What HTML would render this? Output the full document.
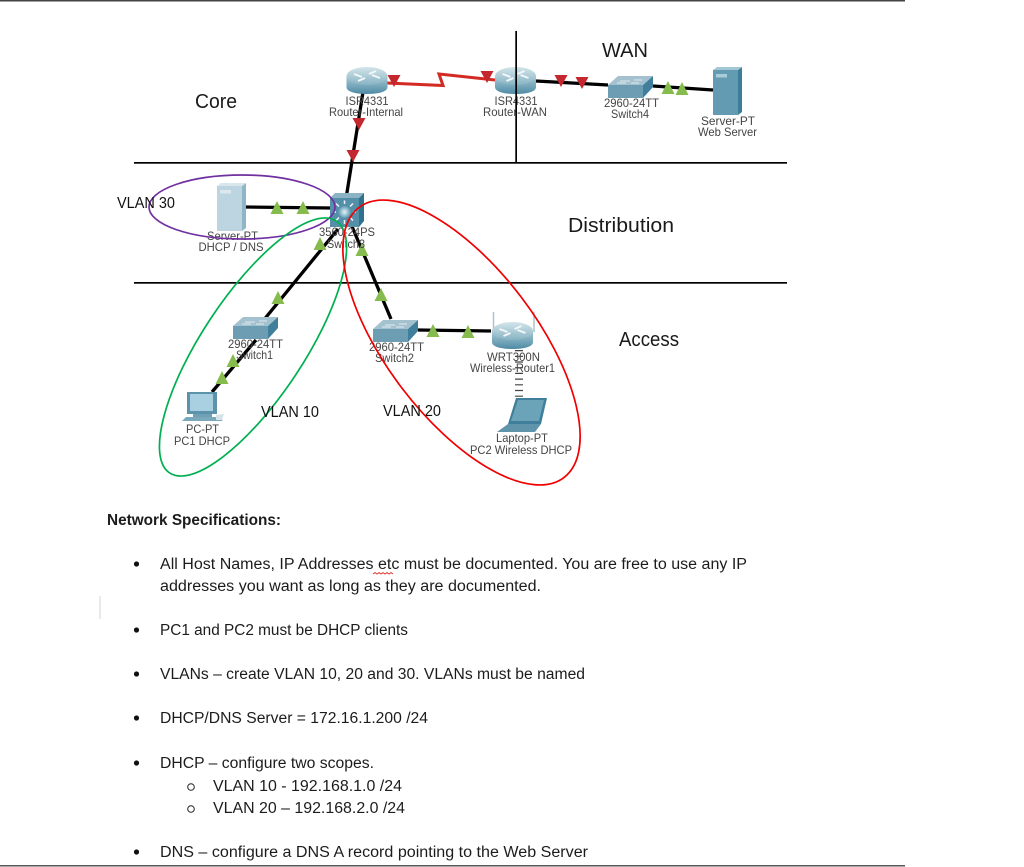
<!DOCTYPE html>
<html lang="en">
<head>
<meta charset="utf-8">
<title>Network diagram</title>
<style>
html,body{margin:0;padding:0;background:#fff;width:1024px;height:867px;overflow:hidden}
svg{display:block}
text{font-family:"Liberation Sans",sans-serif}
.d{font-size:12px;fill:#444;text-anchor:middle;filter:url(#soft)}
.h{font-size:20px;fill:#1a1a1a}
.v{font-size:15.5px;fill:#111}
.b{font-size:15.5px;fill:#1c1c1c}
</style>
</head>
<body>
<svg width="1024" height="867" viewBox="0 0 1024 867" xmlns="http://www.w3.org/2000/svg">
<defs>
<filter id="soft" x="-10%" y="-30%" width="120%" height="160%"><feGaussianBlur stdDeviation="0.3"/></filter>
<linearGradient id="rt" x1="0" y1="0" x2="0" y2="1"><stop offset="0" stop-color="#d3e5ea"/><stop offset="1" stop-color="#87b3c3"/></linearGradient>
<linearGradient id="sd" x1="0" y1="0" x2="0" y2="1"><stop offset="0" stop-color="#a9cad6"/><stop offset="1" stop-color="#4f8ba4"/></linearGradient>
<radialGradient id="ball"><stop offset="0" stop-color="#e6f3f7"/><stop offset="1" stop-color="#5f9db5"/></radialGradient>
<g id="router">
<path d="M-20.500,-7 V4 C-20.500,9 -11,11 0,11 C11,11 20.500,9 20.500,4 V-7 Z" fill="url(#sd)"/>
<ellipse cx="0" cy="-7" rx="20.500" ry="9" fill="url(#rt)"/>
<path d="M-13,-9 L-5,-6 M13,-5 L5,-8 M-9,-2 L-2,-5 M9,-12 L2,-9" stroke="#f2f7f9" stroke-width="2" fill="none"/>
</g>
<g id="switch">
<path d="M-22,-2 L-12,-11 H23 L13,-2 Z" fill="#a3c1cf"/>
<path d="M-22,-2 H13 V11 H-22 Z" fill="#6d9db3"/>
<path d="M13,-2 L23,-11 V0 L13,11 Z" fill="#3f7f9b"/>
<path d="M-10,-6 H0 M4,-7 H12 M-13,-4 H-4 M1,-4 H9" stroke="#e0ecf1" stroke-width="1"/>
</g>
<path id="rtri" d="M-6.500,-6 H6.500 L0,6 Z" fill="#c5272f"/>
<path id="gtri" d="M-6.500,6 H6.500 L0,-7 Z" fill="#86bb4d"/>
</defs>

<rect x="0" y="0" width="905" height="1.500" fill="#444"/>
<rect x="0" y="865" width="905" height="1.500" fill="#555"/>
<rect x="99.500" y="596" width="1" height="23" fill="#d4d4d4"/>

<!-- links -->
<g fill="none" stroke="#000" stroke-width="3.300">
<path d="M363,92 L345,205"/>
<path d="M536,81 L608,85"/>
<path d="M653,86 L713,90"/>
<path d="M246,207 L332,208"/>
<path d="M338,229 L254,332"/>
<path d="M256,340 L212,392"/>
<path d="M351,224 L391,319"/>
<path d="M418,330 L491,331"/>
</g>
<path d="M387,83 L443,85.500 L439,74 L495,80" fill="none" stroke="#d42a24" stroke-width="3"/>
<path d="M519,350 V398" fill="none" stroke="#444" stroke-width="8" stroke-dasharray="1.200 4.500"/>

<!-- routers -->
<use href="#router" x="367" y="83"/>
<use href="#router" x="515.500" y="83"/>
<!-- wireless router -->
<path d="M493.500,312 V332 M534,312 V332" stroke="#a9c3cf" stroke-width="1.500"/>
<use href="#router" x="512.500" y="338"/>
<!-- switches -->
<use href="#switch" x="630" y="87"/>
<use href="#switch" x="255" y="328"/>
<use href="#switch" x="395" y="331"/>
<!-- web server -->
<path d="M713,70 H738 V115 H713 Z" fill="#639cb2"/>
<path d="M738,70 L742,67 V112 L738,115 Z" fill="#3c7d99"/>
<path d="M713,70 L717,67 H742 L738,70 Z" fill="#a3c6d4"/>
<rect x="716" y="74" width="11" height="3.500" fill="#a9ccd9"/>
<!-- DHCP server -->
<path d="M217,186 H242 V231 H217 Z" fill="#bcd5e0"/>
<path d="M242,186 L246,183 V228 L242,231 Z" fill="#8fb6c7"/>
<path d="M217,186 L221,183 H246 L242,186 Z" fill="#d9e7ed"/>
<rect x="220" y="190" width="11" height="3.500" fill="#dbe8ee"/>
<!-- multilayer switch -->
<path d="M330,198 L335,193 H364 L359,198 Z" fill="#8db4c5"/>
<path d="M359,198 L364,193 V221 L359,227 Z" fill="#2f7290"/>
<rect x="330" y="198" width="29" height="29" fill="#548fa9"/>
<circle cx="344.500" cy="212" r="6" fill="url(#ball)"/>
<path d="M344.500,200.500 V204 M344.500,220 V224 M333,212 H336 M353,212 H356 M336,203.500 L339,206.500 M353,203.500 L350,206.500 M336,220.500 L339,217.500 M353,220.500 L350,217.500" stroke="#eef6f9" stroke-width="1.500"/>
<!-- PC -->
<path d="M187,392 H217 V414 H187 Z" fill="#5c93aa"/>
<rect x="190" y="394" width="23" height="17" fill="#a9d0e0"/>
<path d="M193,414 H212 V417 H193 Z" fill="#6fa0b5"/>
<path d="M186,417 H218 L223,421 H182 Z" fill="#7ba8bb"/>
<path d="M216,415 L224,414 L222,420 H216 Z" fill="#d5e3e9"/>
<!-- Laptop -->
<path d="M516,398 H547 L541,424 H508 Z" fill="#3f7f9b"/>
<path d="M518,400 H544 L539,421 H511 Z" fill="#6ba3b9"/>
<path d="M508,424 H541 L535,432 H497 Z" fill="#5f94aa"/>

<!-- link markers -->
<use href="#rtri" x="394" y="81"/>
<use href="#rtri" x="487" y="77"/>
<use href="#rtri" x="561" y="81"/>
<use href="#rtri" x="582" y="83"/>
<use href="#rtri" x="359" y="124"/>
<use href="#rtri" x="353" y="156"/>
<use href="#gtri" x="668" y="88"/>
<use href="#gtri" x="682" y="89"/>
<use href="#gtri" x="277" y="208"/>
<use href="#gtri" x="303" y="208"/>
<use href="#gtri" x="320" y="244"/>
<use href="#gtri" x="278" y="298"/>
<use href="#gtri" x="362" y="250"/>
<use href="#gtri" x="381" y="295"/>
<use href="#gtri" x="233" y="361"/>
<use href="#gtri" x="222" y="378"/>
<use href="#gtri" x="433" y="331"/>
<use href="#gtri" x="468" y="332"/>

<!-- device labels -->
<text class="d" x="367" y="105" textLength="43" lengthAdjust="spacingAndGlyphs">ISR4331</text>
<text class="d" x="366" y="116" textLength="74" lengthAdjust="spacingAndGlyphs">Router-Internal</text>
<text class="d" x="516" y="105" textLength="43" lengthAdjust="spacingAndGlyphs">ISR4331</text>
<text class="d" x="515" y="116" textLength="64" lengthAdjust="spacingAndGlyphs">Router-WAN</text>
<text class="d" x="631.500" y="107" textLength="55" lengthAdjust="spacingAndGlyphs">2960-24TT</text>
<text class="d" x="630" y="118" textLength="38" lengthAdjust="spacingAndGlyphs">Switch4</text>
<text class="d" x="728" y="125" textLength="54" lengthAdjust="spacingAndGlyphs">Server-PT</text>
<text class="d" x="727.500" y="136" textLength="59" lengthAdjust="spacingAndGlyphs">Web Server</text>
<text class="d" x="232.500" y="240" textLength="51" lengthAdjust="spacingAndGlyphs">Server-PT</text>
<text class="d" x="231" y="251" textLength="65" lengthAdjust="spacingAndGlyphs">DHCP / DNS</text>
<text class="d" x="347" y="236" textLength="56" lengthAdjust="spacingAndGlyphs">3560-24PS</text>
<text class="d" x="346" y="248" textLength="38" lengthAdjust="spacingAndGlyphs">Switch3</text>
<text class="d" x="255.500" y="348" textLength="55" lengthAdjust="spacingAndGlyphs">2960-24TT</text>
<text class="d" x="254.500" y="359" textLength="37" lengthAdjust="spacingAndGlyphs">Switch1</text>
<text class="d" x="396.500" y="351" textLength="55" lengthAdjust="spacingAndGlyphs">2960-24TT</text>
<text class="d" x="394.500" y="362" textLength="39" lengthAdjust="spacingAndGlyphs">Switch2</text>
<text class="d" x="513.500" y="361" textLength="53" lengthAdjust="spacingAndGlyphs">WRT300N</text>
<text class="d" x="512.500" y="372" textLength="85" lengthAdjust="spacingAndGlyphs">Wireless-Router1</text>
<text class="d" x="522" y="442" textLength="52" lengthAdjust="spacingAndGlyphs">Laptop-PT</text>
<text class="d" x="521" y="454" textLength="102" lengthAdjust="spacingAndGlyphs">PC2 Wireless DHCP</text>
<text class="d" x="202.500" y="433" textLength="33" lengthAdjust="spacingAndGlyphs">PC-PT</text>
<text class="d" x="202" y="445" textLength="56" lengthAdjust="spacingAndGlyphs">PC1 DHCP</text>

<!-- zone lines -->
<rect x="134" y="162" width="653" height="1.700" fill="#000"/>
<rect x="134" y="282" width="653" height="1.700" fill="#000"/>
<rect x="515.300" y="31" width="1.700" height="132" fill="#000"/>

<!-- VLAN ellipses -->
<ellipse cx="242" cy="207" rx="93" ry="32" fill="none" stroke="#7030a0" stroke-width="1.700"/>
<ellipse cx="253" cy="347" rx="151" ry="51" transform="rotate(-56.500 253 347)" fill="none" stroke="#00b050" stroke-width="1.700"/>
<ellipse cx="461.500" cy="342.500" rx="169.500" ry="75" transform="rotate(52.800 461.500 342.500)" fill="none" stroke="#f00000" stroke-width="1.700"/>

<!-- zone headings -->
<text class="h" x="195" y="108" textLength="42" lengthAdjust="spacingAndGlyphs">Core</text>
<text class="h" x="602" y="57" textLength="46" lengthAdjust="spacingAndGlyphs">WAN</text>
<text class="h" x="568" y="232" textLength="106" lengthAdjust="spacingAndGlyphs">Distribution</text>
<text class="h" x="619" y="346" textLength="60" lengthAdjust="spacingAndGlyphs">Access</text>
<text class="v" x="117" y="208" textLength="58" lengthAdjust="spacingAndGlyphs">VLAN 30</text>
<text class="v" x="261" y="417" textLength="58" lengthAdjust="spacingAndGlyphs">VLAN 10</text>
<text class="v" x="383" y="416" textLength="58" lengthAdjust="spacingAndGlyphs">VLAN 20</text>

<!-- document text -->
<text class="b" x="107" y="525" font-weight="700" textLength="174" lengthAdjust="spacingAndGlyphs">Network Specifications:</text>

<g fill="#111">
<circle cx="136.500" cy="564" r="2.600"/>
<circle cx="136.500" cy="630" r="2.600"/>
<circle cx="136.500" cy="674" r="2.600"/>
<circle cx="136.500" cy="718" r="2.600"/>
<circle cx="136.500" cy="763" r="2.600"/>
<circle cx="136.500" cy="852" r="2.600"/>
</g>
<g fill="none" stroke="#222" stroke-width="1">
<circle cx="191" cy="787" r="3.300"/>
<circle cx="191" cy="809" r="3.300"/>
</g>

<text class="b" x="160" y="569" textLength="587" lengthAdjust="spacingAndGlyphs">All Host Names, IP Addresses etc must be documented. You are free to use any IP</text>
<path d="M373,574 l2,-1.500 2,1.500 2,-1.500 2,1.500 2,-1.500 2,1.500 2,-1.500 2,1.500 2,-1.500 2,1.500" fill="none" stroke="#d9342b" stroke-width="0.900"/>
<text class="b" x="160" y="591" textLength="381" lengthAdjust="spacingAndGlyphs">addresses you want as long as they are documented.</text>
<text class="b" x="160" y="635" textLength="248" lengthAdjust="spacingAndGlyphs">PC1 and PC2 must be DHCP clients</text>
<text class="b" x="160" y="679" textLength="425" lengthAdjust="spacingAndGlyphs">VLANs – create VLAN 10, 20 and 30. VLANs must be named</text>
<text class="b" x="160" y="723" textLength="268" lengthAdjust="spacingAndGlyphs">DHCP/DNS Server = 172.16.1.200 /24</text>
<text class="b" x="160" y="768" textLength="214" lengthAdjust="spacingAndGlyphs">DHCP – configure two scopes.</text>
<text class="b" x="213" y="791" textLength="189" lengthAdjust="spacingAndGlyphs">VLAN 10 - 192.168.1.0 /24</text>
<text class="b" x="213" y="813" textLength="192" lengthAdjust="spacingAndGlyphs">VLAN 20 – 192.168.2.0 /24</text>
<text class="b" x="160" y="857" textLength="428" lengthAdjust="spacingAndGlyphs">DNS – configure a DNS A record pointing to the Web Server</text>
</svg>
</body>
</html>
